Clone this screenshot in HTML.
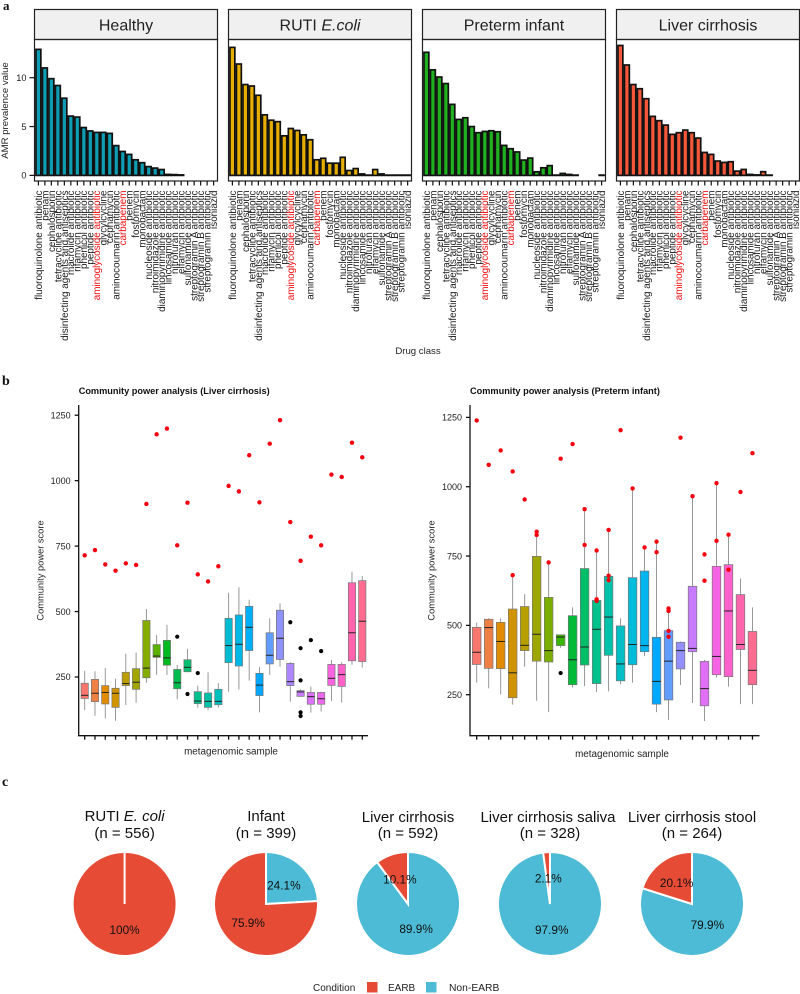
<!DOCTYPE html>
<html lang="en">
<head>
<meta charset="utf-8">
<title>AMR prevalence, community power and EARB pies</title>
<style>
html,body{margin:0;padding:0;background:#fff;}
svg{display:block;font-family:"Liberation Sans",Arial,sans-serif;}
</style>
</head>
<body>
<svg id="fig" xmlns="http://www.w3.org/2000/svg" width="800" height="994" viewBox="0 0 800 994">
<text x="3" y="10" font-family="Liberation Serif" font-weight="bold" font-size="13" fill="#111">a</text>
<text x="2" y="385" font-family="Liberation Serif" font-weight="bold" font-size="14" fill="#111">b</text>
<text x="2" y="786" font-family="Liberation Serif" font-weight="bold" font-size="14" fill="#111">c</text>
<text transform="translate(8,110.5) rotate(-90)" text-anchor="middle" font-size="9.6" fill="#222">AMR prevalence value</text>
<text x="418" y="354" text-anchor="middle" font-size="9.6" fill="#222">Drug class</text>
<text x="78.7" y="394" font-size="9.2" font-weight="bold" fill="#111">Community power analysis (Liver cirrhosis)</text>
<text x="470" y="394" font-size="9.2" font-weight="bold" fill="#111">Community power analysis (Preterm infant)</text>
<text transform="translate(43.5,570.5) rotate(-90)" text-anchor="middle" font-size="9.3" fill="#222">Community power score</text>
<text transform="translate(434.5,570.5) rotate(-90)" text-anchor="middle" font-size="9.3" fill="#222">Community power score</text>
<text x="231" y="754.5" text-anchor="middle" font-size="9.9" fill="#222">metagenomic sample</text>
<text x="622" y="757" text-anchor="middle" font-size="9.9" fill="#222">metagenomic sample</text>
<text x="124.6" y="821" text-anchor="middle" font-size="15" fill="#111">RUTI <tspan font-style="italic">E. coli</tspan></text>
<text x="124.6" y="838" text-anchor="middle" font-size="15" fill="#111">(n = 556)</text>
<text x="266" y="821" text-anchor="middle" font-size="15" fill="#111">Infant</text>
<text x="266" y="838" text-anchor="middle" font-size="15" fill="#111">(n = 399)</text>
<text x="408" y="822" text-anchor="middle" font-size="15" fill="#111">Liver cirrhosis</text>
<text x="408" y="838" text-anchor="middle" font-size="15" fill="#111">(n = 592)</text>
<text x="548" y="822" text-anchor="middle" font-size="15" fill="#111">Liver cirrhosis saliva</text>
<text x="550" y="838" text-anchor="middle" font-size="15" fill="#111">(n = 328)</text>
<text x="692" y="822" text-anchor="middle" font-size="15" fill="#111">Liver cirrhosis stool</text>
<text x="692" y="838" text-anchor="middle" font-size="15" fill="#111">(n = 264)</text>
<g>
<text x="313" y="991" font-size="10" fill="#222">Condition</text>
<rect x="367" y="982" width="10.5" height="10.5" fill="#E64B35"/>
<text x="388" y="991" font-size="10" fill="#222">EARB</text>
<rect x="426" y="982" width="10.5" height="10.5" fill="#4DBBD5"/>
<text x="449" y="991" font-size="10.3" fill="#222">Non-EARB</text>
</g>
</svg>
<script>
/* ---------- panel a data ---------- */
var drugClasses = ["fluoroquinolone antibiotic","penam","cephalosporin","tetracycline antibiotic","disinfecting agents and antiseptics","macrolide antibiotic","rifamycin antibiotic","phenicol antibiotic","peptide antibiotic","aminoglycoside antibiotic","glycylcycline","cephamycin","aminocoumarin antibiotic","carbapenem","penem","fosfomycin","monobactam","nucleoside antibiotic","nitroimidazole antibiotic","diaminopyrimidine antibiotic","lincosamide antibiotic","nitrofuran antibiotic","elfamycin antibiotic","sulfonamide antibiotic","streptogramin A antibiotic","streptogramin B antibiotic","streptogramin antibiotic","isoniazid"];
var highlightedClasses = ["aminoglycoside antibiotic","carbapenem"];
var amrTicks = [0,5,10];
var healthyValues = [12.9,11,9.9,9.2,7.9,6.07,5.97,4.9,4.55,4.4,4.4,4.3,3.05,2.45,2.15,1.6,1.3,0.9,0.75,0.6,0.1,0.08,0.05];
var rutiValues = [13.1,11.4,9.3,9.15,8.2,6.2,5.65,5.5,4.05,4.8,4.6,4.15,3.65,1.6,1.75,1.25,1.25,1.85,0.5,0.7,0.15,0.03,0.6,0.15,0.03,0.03,0.03,0.03];
var pretermValues = [12.6,10.8,10.07,9.4,7.27,5.73,5.9,5.0,4.37,4.5,4.57,4.47,3.07,2.73,2.4,1.57,1.77,0.37,0.78,1.0,0.03,0.2,0.1,0.03,null,null,null,0.03];
var cirrhosisValues = [13.3,11.3,9.3,8.87,7.85,6.04,5.6,5.15,4.2,4.37,4.64,4.37,3.82,2.35,2.15,1.47,1.33,1.4,0.44,0.61,0.1,0.05,0.38,0.03];

/* ---------- panel b data: [whisker high, q3, median, q1, whisker low] ---------- */
var boxTicks = [250,500,750,1000,1250];
var hueColors = ["#F8766D","#EE8043","#E08B00","#D09400","#BC9D00","#A3A500","#85AD00","#5BB300","#00B81F","#00BB4E","#00BE70","#00C08D","#00C1A7","#00BFBD","#00BCD1","#00B8E5","#00B0F6","#00A6FF","#619CFF","#8F91FF","#AE87FF","#C77CFF","#DC71FA","#ED68ED","#F863DF","#FF61C9","#FF65AE","#FF6C92"];
var infantColors = ["#F8766D","#EE8043","#E08B00","#D09400","#B79F00","#9DA700","#7CAE00","#39B600","#00BA38","#00BE67","#00C08B","#00C1A9","#00BFC4","#00BBDA","#00B4F0","#00A9FF","#619CFF","#9590FF","#C77CFF","#E06EF6","#F564E3","#FF61CC","#FF65AC","#FF6C91"];
var liverBoxes = [[274,226,180,168,124],[272,241,188,156,102],[284,217,191,147,92],[244,207,188,134,83],[339,268,225,217,143],[343,282,230,203,152],[510,466,284,247,228],[410,374,330,325,258],[449,390,323,295,258],[296,279,228,205,165],[358,316,287,270,268],[217,194,158,148,133],[268,189,157,134,123],[226,203,157,144,133],[572,474,370,305,194],[593,487,375,292,202],[545,520,440,351,236],[288,264,219,179,115],[474,419,333,300,258],[531,505,398,317,289],[307,302,232,217,156],[203,198,193,176,175],[213,191,175,146,114],[194,191,167,146,118],[315,298,245,218,158],[307,298,259,214,152],[652,610,419,312,297],[636,618,463,309,286]];
var liverRedPoints = [[715],[735],[680],[656],[684],[678],[911],[1177],[1199],[753],[916],[642],[615],[673],[980],[959],[1097],[917],[1141],[1231],[842],[694],[786],[753],[1023],[1014],[1145],[1089]];
var liverBlackPoints = [[],[],[],[],[],[],[],[],[],[404],[185],[265],[],[],[],[],[],[],[],[],[459],[360,237,115,101],[391],[349],[],[],[],[]];
var infantBoxes = [[510,493,403,359,293],[526,522,492,345,273],[525,511,442,344,251],[681,559,329,239,214],[613,568,428,409,351],[826,749,468,371,228],[730,601,409,368,187],[466,466,458,427,419],[565,535,376,286,276],[919,705,422,357,281],[770,590,486,290,260],[844,677,530,392,262],[525,498,361,300,288],[994,672,431,358,293],[781,696,427,405,389],[802,457,298,216,187],[561,481,371,231,159],[442,439,409,343,285],[966,641,417,405,220],[375,370,272,210,155],[1013,713,388,322,312],[827,719,552,315,279],[669,611,431,413,216],[565,478,338,286,216]];
var infantRedPoints = [[1239],[1079],[1131],[1055,681],[954],[838,826],[727],[1101],[1154],[919,790],[770,594,588],[844,679,663],[1204],[994],[781],[802,764],[561,552,480,459],[1177],[966],[756,661],[1013,805],[827,701],[981],[1121]];
var infantBlackPoints = [[],[],[],[],[],[],[],[328],[],[],[],[],[],[],[],[],[],[],[],[],[],[],[],[]];

/* ---------- panel c data ---------- */
var pieNames = ["ruti","infant","liver","saliva","stool"];
var nonEarbShares = [0,24.1,89.9,97.9,79.9];
var earbShares = [100,75.9,10.1,2.1,20.1];
var nonEarbLabels = ["","24.1%","89.9%","97.9%","79.9%"];
var earbLabels = ["100%","75.9%","10.1%","2.1%","20.1%"];

/* ---------- helpers ---------- */
var svg = document.getElementById('fig');
var NS = 'http://www.w3.org/2000/svg';
function mk(tag, parent, props, txt){
  var e = document.createElementNS(NS, tag);
  for (var k in props) e.setAttribute(k, props[k]);
  if (txt !== undefined) e.textContent = txt;
  parent.appendChild(e);
  return e;
}

/* ---------- panel a ---------- */
var amrPanels = [
 {name:'healthy', x0:34.5, values:healthyValues, color:'#0E9DB2', title:'Healthy'},
 {name:'ruti', x0:228.5, values:rutiValues, color:'#E6AE00', title:'RUTI'},
 {name:'preterm', x0:422.5, values:pretermValues, color:'#20B020', title:'Preterm infant'},
 {name:'cirrhosis', x0:616.5, values:cirrhosisValues, color:'#F4573A', title:'Liver cirrhosis'}
];
var amrTop = 39.5, amrBottom = 181, amrZero = 175.4, amrUnit = 9.77, amrW = 183, amrStep = 6.49;
function amrY(v){ return amrZero - v * amrUnit; }
function amrX(x0, i){ return x0 + (0.6 + i) * amrStep; }

amrPanels.forEach(function(p, pi){
  var g = mk('g', svg, {});
  
  
  var strip = mk('rect', g, {x:p.x0, y:9.5, width:amrW, height:30, fill:'#f0f0f0', stroke:'#222', 'stroke-width':1.2});
  
  
  var st = mk('text', g, {x:p.x0 + amrW/2, y:30.5, 'text-anchor':'middle', 'font-size':16, fill:'#222'}, p.title);
  
  
  if (p.name === 'ruti') {
    var ts = mk('tspan', st, {'font-style':'italic'}, ' E.coli');
    
    
  }
  p.values.forEach(function(v, i){
    if (v === null) return;
    var bw = 4.9, cx = amrX(p.x0, i), y = amrY(v);
    var b = mk('rect', g, {x:cx - bw/2, y:y, width:bw, height:Math.max(0.1, amrZero - y), fill:p.color, stroke:'#111', 'stroke-width':1.7});
    
    
  });
  var fr = mk('rect', g, {x:p.x0, y:amrTop, width:amrW, height:amrBottom - amrTop, fill:'none', stroke:'#222', 'stroke-width':1.2});
  
  
  drugClasses.forEach(function(c, i){
    var cx = amrX(p.x0, i);
    var t = mk('line', g, {x1:cx, x2:cx, y1:amrBottom, y2:185.5, stroke:'#111', 'stroke-width':1.2});
    
    
    var red = highlightedClasses.indexOf(c) >= 0;
    var lb = mk('text', g, {transform:'translate(' + (cx + 3.4) + ',190.5) rotate(-90)', 'text-anchor':'end', 'font-size':9.9, fill: red ? '#f01010' : '#222'}, c);
    
    
  });
  if (pi === 0) {
    amrTicks.forEach(function(v){
      var y = amrY(v);
      var t = mk('line', g, {x1:p.x0 - 5, x2:p.x0, y1:y, y2:y, stroke:'#111', 'stroke-width':1.2});
      
      
      var l = mk('text', g, {x:p.x0 - 8, y:y + 3.3, 'text-anchor':'end', 'font-size':9.2, fill:'#222'}, v);
      
      
    });
  }
});

/* ---------- panel b ---------- */
function drawBoxPlot(cfg){
  var g = mk('g', svg, {});
  
  
  function y(v){ return cfg.y250 - (v - 250) * cfg.pxPerUnit; }
  function x(i){ return cfg.x0 + i * cfg.step; }
  cfg.boxes.forEach(function(b, i){
    var cx = x(i), hw = cfg.boxW / 2;
    var w = mk('line', g, {x1:cx, x2:cx, y1:y(b[0]), y2:y(b[4]), stroke:'#8c8c8c', 'stroke-width':0.9});
    
    
    var r = mk('rect', g, {x:cx - hw, y:y(b[1]), width:cfg.boxW, height:y(b[3]) - y(b[1]), fill:cfg.colors[i], stroke:'#777', 'stroke-width':0.7});
    
    
    var m = mk('line', g, {x1:cx - hw, x2:cx + hw, y1:y(b[2]), y2:y(b[2]), stroke:'#222', 'stroke-width':1});
    
    
    cfg.black[i].forEach(function(v){
      var c = mk('circle', g, {cx:cx, cy:y(v), r:2.1, fill:'#000'});
      
      
    });
    cfg.red[i].forEach(function(v){
      var c = mk('circle', g, {cx:cx, cy:y(v), r:2.2, fill:'#f5000f'});
      
      
    });
    var t = mk('line', g, {x1:cx, x2:cx, y1:cfg.bottom, y2:cfg.bottom + 4, stroke:'#111', 'stroke-width':1.3});
    
    
  });
  var ax = mk('path', g, {d:'M' + cfg.axisX + ' 405V' + cfg.bottom + 'H' + cfg.axisEnd, fill:'none', stroke:'#111', 'stroke-width':1.3});
  
  
  boxTicks.forEach(function(v){
    var t = mk('line', g, {x1:cfg.axisX - 4, x2:cfg.axisX, y1:y(v), y2:y(v), stroke:'#111', 'stroke-width':1.3});
    
    
    var l = mk('text', g, {x:cfg.axisX - 8, y:y(v) + 3.2, 'text-anchor':'end', 'font-size':9, fill:'#222'}, v);
    
    
  });
}
drawBoxPlot({name:'liver-cirrhosis-boxplot', boxes:liverBoxes, red:liverRedPoints, black:liverBlackPoints, colors:hueColors,
  x0:84.7, step:10.28, boxW:7.3, y250:677, pxPerUnit:0.2618, axisX:78.7, axisEnd:368, bottom:735.7});
drawBoxPlot({name:'preterm-infant-boxplot', boxes:infantBoxes, red:infantRedPoints, black:infantBlackPoints, colors:infantColors,
  x0:476.7, step:11.99, boxW:8.6, y250:694.7, pxPerUnit:0.2773, axisX:470, axisEnd:759.5, bottom:735.7});

/* ---------- panel c ---------- */
var pieCenters = [124.6,266,408,550,692];
var pieCy = 904, pieR = 52, pieLabelR = 26;
function polar(cx, deg, r){
  var a = deg * Math.PI / 180;
  return [cx + r * Math.sin(a), pieCy - r * Math.cos(a)];
}
function wedgePath(cx, a0, a1){
  var p0 = polar(cx, a0, pieR), p1 = polar(cx, a1, pieR);
  if (a1 - a0 >= 359.99) {
    var pm = polar(cx, a0 + 180, pieR);
    return 'M' + p0[0] + ' ' + p0[1] + 'A' + pieR + ' ' + pieR + ' 0 1 1 ' + pm[0] + ' ' + pm[1] + 'A' + pieR + ' ' + pieR + ' 0 1 1 ' + p0[0] + ' ' + p0[1] + 'Z';
  }
  return 'M' + cx + ' ' + pieCy + 'L' + p0[0] + ' ' + p0[1] + 'A' + pieR + ' ' + pieR + ' 0 ' + (a1 - a0 > 180 ? 1 : 0) + ' 1 ' + p1[0] + ' ' + p1[1] + 'Z';
}
pieNames.forEach(function(n, i){
  var g = mk('g', svg, {});
  
  
  var cx = pieCenters[i];
  var split = nonEarbShares[i] * 3.6;
  if (nonEarbShares[i] > 0) {
    var w1 = mk('path', g, {d:wedgePath(cx, 0, split), fill:'#4DBBD5', stroke:'#fff', 'stroke-width':2});
    
    
  }
  if (earbShares[i] > 0) {
    var w2 = mk('path', g, {d:wedgePath(cx, split, split + earbShares[i] * 3.6), fill:'#E64B35', stroke:'#fff', 'stroke-width':2});
    
    
    if (earbShares[i] >= 100) {
      var top = polar(cx, 0, pieR);
      var seam = mk('line', g, {x1:cx, y1:pieCy, x2:top[0], y2:top[1], stroke:'#fff', 'stroke-width':2});
      
      
    }
  }
  if (nonEarbLabels[i]) {
    var p1 = polar(cx, split / 2, pieLabelR);
    var t1 = mk('text', g, {x:p1[0], y:p1[1] + 4.2, 'text-anchor':'middle', 'font-size':11.8, fill:'#111'}, nonEarbLabels[i]);
    
    
  }
  var p2 = polar(cx, split + earbShares[i] * 1.8, pieLabelR);
  var t2 = mk('text', g, {x:p2[0], y:p2[1] + 4.2, 'text-anchor':'middle', 'font-size':11.8, fill:'#111'}, earbLabels[i]);
  
  
});
</script>
</body>
</html>
